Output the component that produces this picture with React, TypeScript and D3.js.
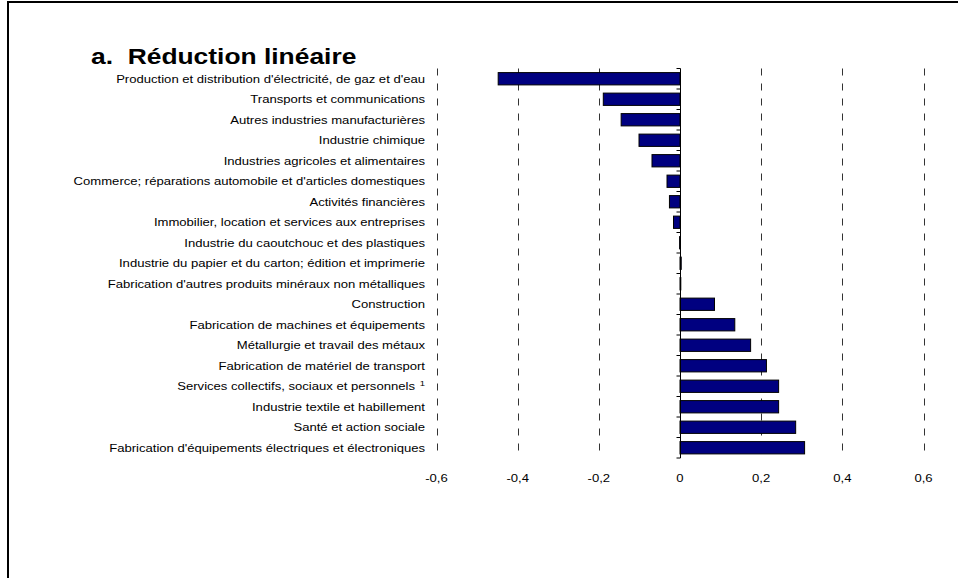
import React from "react";
import * as d3 from "d3";

const categories = [
  "Production et distribution d'électricité, de gaz et d'eau",
  "Transports et communications",
  "Autres industries manufacturières",
  "Industrie chimique",
  "Industries agricoles et alimentaires",
  "Commerce; réparations automobile et d'articles domestiques",
  "Activités financières",
  "Immobilier, location et services aux entreprises",
  "Industrie du caoutchouc et des plastiques",
  "Industrie du papier et du carton; édition et imprimerie",
  "Fabrication d'autres produits minéraux non métalliques",
  "Construction",
  "Fabrication de machines et équipements",
  "Métallurgie et travail des métaux",
  "Fabrication de matériel de transport",
  "Services collectifs, sociaux et personnels",
  "Industrie textile et habillement",
  "Santé et action sociale",
  "Fabrication d'équipements électriques et électroniques",
];
const superscripts = ["", "", "", "", "", "", "", "", "", "", "", "", "", "", "", "1", "", "", ""];
const values = [
  -0.448, -0.189, -0.145, -0.101, -0.069, -0.032, -0.026, -0.016, -0.001, 0.003, 0.002,
  0.085, 0.135, 0.174, 0.213, 0.243, 0.243, 0.285, 0.307,
];
const tickValues = [-0.6, -0.4, -0.2, 0, 0.2, 0.4, 0.6];
const tickLabels = ["-0,6", "-0,4", "-0,2", "0", "0,2", "0,4", "0,6"];
const title = "a.  Réduction linéaire";

const SX = 1.19;

export default function App() {
  const W = 958, H = 578;
  const top = 68.5, bottom = 458;
  const x = d3.scaleLinear().domain([-0.6, 0.6]).range([436.5, 923.5]);
  const y = d3.scaleBand<number>().domain(d3.range(categories.length)).range([top, bottom]).paddingInner(0.4).paddingOuter(0.2);
  const band = (bottom - top) / categories.length;
  const x0 = Math.round(x(0)) + 0.5;
  const font = "'Liberation Sans', Arial, sans-serif";
  return (
    <svg width={W} height={H} style={{ position: "absolute", left: 0, top: 0 }} fontFamily={font}>
      <rect x={0} y={0} width={W} height={H} fill="#fff" />
      <path d={`M8,${H} V2 H${W}`} fill="none" stroke="#000" strokeWidth={2} />
      <text transform={`translate(91,63.5) scale(1.2,1)`} fontSize={22} fontWeight="bold" fill="#000" style={{ whiteSpace: "pre" }}>{title}</text>
      {tickValues.map((t, i) =>
        t === 0 ? null : (
          <line key={"g" + i} x1={Math.round(x(t)) + 0.5} x2={Math.round(x(t)) + 0.5} y1={top} y2={bottom}
            stroke="#333" strokeWidth={1} strokeDasharray="7,8" />
        )
      )}
      {values.map((v, i) => {
        const yy = y(i)!;
        const xa = x(Math.min(0, v)), xb = x(Math.max(0, v));
        return (
          <rect key={"b" + i} x={xa} y={yy} width={Math.max(0.5, xb - xa)} height={y.bandwidth()}
            fill="#000080" stroke="#000" strokeWidth={1} />
        );
      })}
      <line x1={x0} x2={x0} y1={top} y2={bottom} stroke="#000" strokeWidth={1} />
      {d3.range(categories.length + 1).map((i) => (
        <line key={"t" + i} x1={x0 - 4} x2={x0} y1={top + i * band} y2={top + i * band} stroke="#000" strokeWidth={1} />
      ))}
      {categories.map((c, i) => (
        <text key={"l" + i} transform={`translate(425,${y(i)! + y.bandwidth() / 2}) scale(${SX},1)`} dy="0.35em" textAnchor="end" fontSize={11} fill="#000">
          {c}
          {superscripts[i] ? <tspan fontSize={8} dx={4} dy="-0.5em">{superscripts[i]}</tspan> : null}
        </text>
      ))}
      {tickValues.map((t, i) => (
        <text key={"x" + i} transform={`translate(${x(t)},482) scale(${SX},1)`} textAnchor="middle" fontSize={11} fill="#000">{tickLabels[i]}</text>
      ))}
    </svg>
  );
}
